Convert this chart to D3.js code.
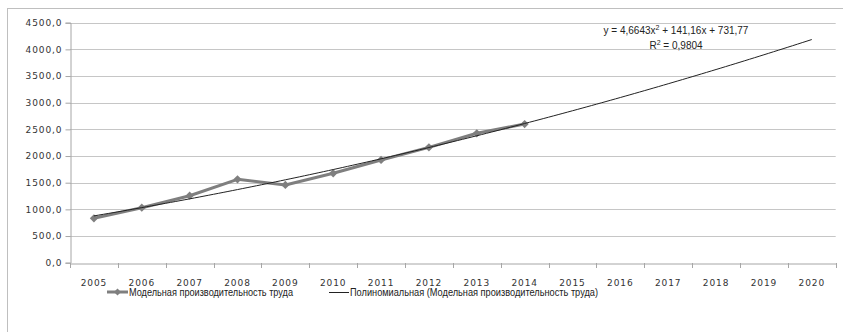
<!DOCTYPE html>
<html><head><meta charset="utf-8">
<script src="https://cdn.jsdelivr.net/npm/d3@7"></script>
<style>body{margin:0;background:#fff}svg{display:block}</style>
</head><body><svg id="c" width="843" height="332"></svg>
<script>
const years = ["2005","2006","2007","2008","2009","2010","2011","2012","2013","2014","2015","2016","2017","2018","2019","2020"];
const dataYears = ["2005","2006","2007","2008","2009","2010","2011","2012","2013","2014"];
const productivity = [832, 1031, 1256, 1563, 1457, 1676, 1926, 2163, 2426, 2600];
const yTicks = [0,500,1000,1500,2000,2500,3000,3500,4000,4500];
const trendCoef = [4.6643, 141.16, 731.77]; // a, b, c of y = a x^2 + b x + c
const seriesName = "Модельная производительность труда";
const trendName = "Полиномиальная (Модельная производительность труда)";
const eqText1 = "y = 4,6643x";
const eqText2 = " + 141,16x + 731,77";
const r2Text = " = 0,9804";

const svg = d3.select("#c");
const L = 70, R = 835.7, T = 22.7, B = 262.7;
svg.append("rect").attr("x",7.5).attr("y",8.5).attr("width",850).attr("height",340)
  .attr("fill","none").attr("stroke","#bfbfbf");

const x = d3.scaleBand().domain(years).range([L,R]);
const y = d3.scaleLinear().domain([0,4500]).range([B,T]);
const fmt = v => d3.format(".1f")(v).replace(".",",");

// gridlines
svg.append("g").selectAll("line").data(yTicks.filter(d=>d>0)).join("line")
  .attr("x1",L).attr("x2",R).attr("y1",d=>Math.round(y(d))+0.5).attr("y2",d=>Math.round(y(d))+0.5)
  .attr("stroke","#c6c6c6").attr("stroke-width",1);

// y axis
const ya = svg.append("g").attr("transform",`translate(${L+0.5},0)`)
  .call(d3.axisLeft(y).tickValues(yTicks).tickFormat(fmt).tickSize(5).tickPadding(3));
ya.select(".domain").attr("stroke","#a6a6a6");
ya.selectAll(".tick line").attr("stroke","#a6a6a6");
ya.selectAll(".tick text").attr("font-family","DejaVu Sans").attr("font-size",9)
  .attr("letter-spacing","0.9px").attr("fill","#333");

// x axis
const xa = svg.append("g").attr("transform",`translate(0,${Math.round(B)+0.5})`)
  .call(d3.axisBottom(x).tickValues(years).tickSize(0).tickPadding(16));
xa.select(".domain").attr("stroke","#a6a6a6");
xa.selectAll(".tick line").remove();
xa.selectAll(".tick text").attr("font-family","DejaVu Sans").attr("font-size",9)
  .attr("letter-spacing","0.9px").attr("fill","#333");
// category boundary ticks
const bounds = years.map(d=>x(d)).concat([R]);
svg.append("g").selectAll("line").data(bounds).join("line")
  .attr("x1",d=>Math.round(d)+0.5).attr("x2",d=>Math.round(d)+0.5)
  .attr("y1",Math.round(B)).attr("y2",Math.round(B)+5).attr("stroke","#a6a6a6");

const cx = d => x(d) + x.bandwidth()/2;

// series line
const pts = dataYears.map((d,i)=>[cx(d), y(productivity[i])]);
svg.append("path").attr("d",d3.line()(pts)).attr("fill","none")
  .attr("stroke","#7f7f7f").attr("stroke-width",3).attr("stroke-linejoin","round");
const diamond = d3.symbol().type(d3.symbolSquare).size(34);
svg.append("g").selectAll("path").data(pts).join("path")
  .attr("transform",d=>`translate(${d[0]},${d[1]}) rotate(45)`).attr("d",diamond).attr("fill","#7f7f7f");

// trendline
const tx = d3.scaleLinear().domain([1,years.length]).range([cx(years[0]), cx(years[years.length-1])]);
const tpts = d3.range(1, years.length+0.001, 0.1).map(t=>[tx(t), y(trendCoef[0]*t*t+trendCoef[1]*t+trendCoef[2])]);
svg.append("path").attr("d",d3.line()(tpts)).attr("fill","none").attr("stroke","#222").attr("stroke-width",1);

// equation
const eq = svg.append("text").attr("x",676).attr("y",34).attr("text-anchor","middle")
  .attr("font-family","Liberation Sans").attr("font-size",10).attr("fill","#222");
eq.append("tspan").text(eqText1);
eq.append("tspan").attr("dy",-4).attr("font-size",7).text("2");
eq.append("tspan").attr("dy",4).text(eqText2);
const r2 = svg.append("text").attr("x",676).attr("y",49).attr("text-anchor","middle")
  .attr("font-family","Liberation Sans").attr("font-size",10).attr("fill","#222");
r2.append("tspan").text("R");
r2.append("tspan").attr("dy",-4).attr("font-size",7).text("2");
r2.append("tspan").attr("dy",4).text(r2Text);

// legend
const lg = svg.append("g");
const ly = 292;
const ldiamond = d3.symbol().type(d3.symbolSquare).size(24);
lg.append("line").attr("x1",107).attr("x2",128).attr("y1",ly).attr("y2",ly).attr("stroke","#7f7f7f").attr("stroke-width",3);
lg.append("path").attr("transform",`translate(117.5,${ly}) rotate(45)`).attr("d",ldiamond).attr("fill","#7f7f7f");
lg.append("text").attr("x",129).attr("y",ly+3.5).attr("font-family","Liberation Sans").attr("font-size",10)
  .attr("fill","#222").attr("textLength",164).attr("lengthAdjust","spacingAndGlyphs").text(seriesName);
lg.append("line").attr("x1",329).attr("x2",349).attr("y1",ly+0.5).attr("y2",ly+0.5).attr("stroke","#222").attr("stroke-width",1);
lg.append("text").attr("x",350).attr("y",ly+3.5).attr("font-family","Liberation Sans").attr("font-size",10)
  .attr("fill","#222").attr("textLength",248).attr("lengthAdjust","spacingAndGlyphs").text(trendName);
</script></body></html>
